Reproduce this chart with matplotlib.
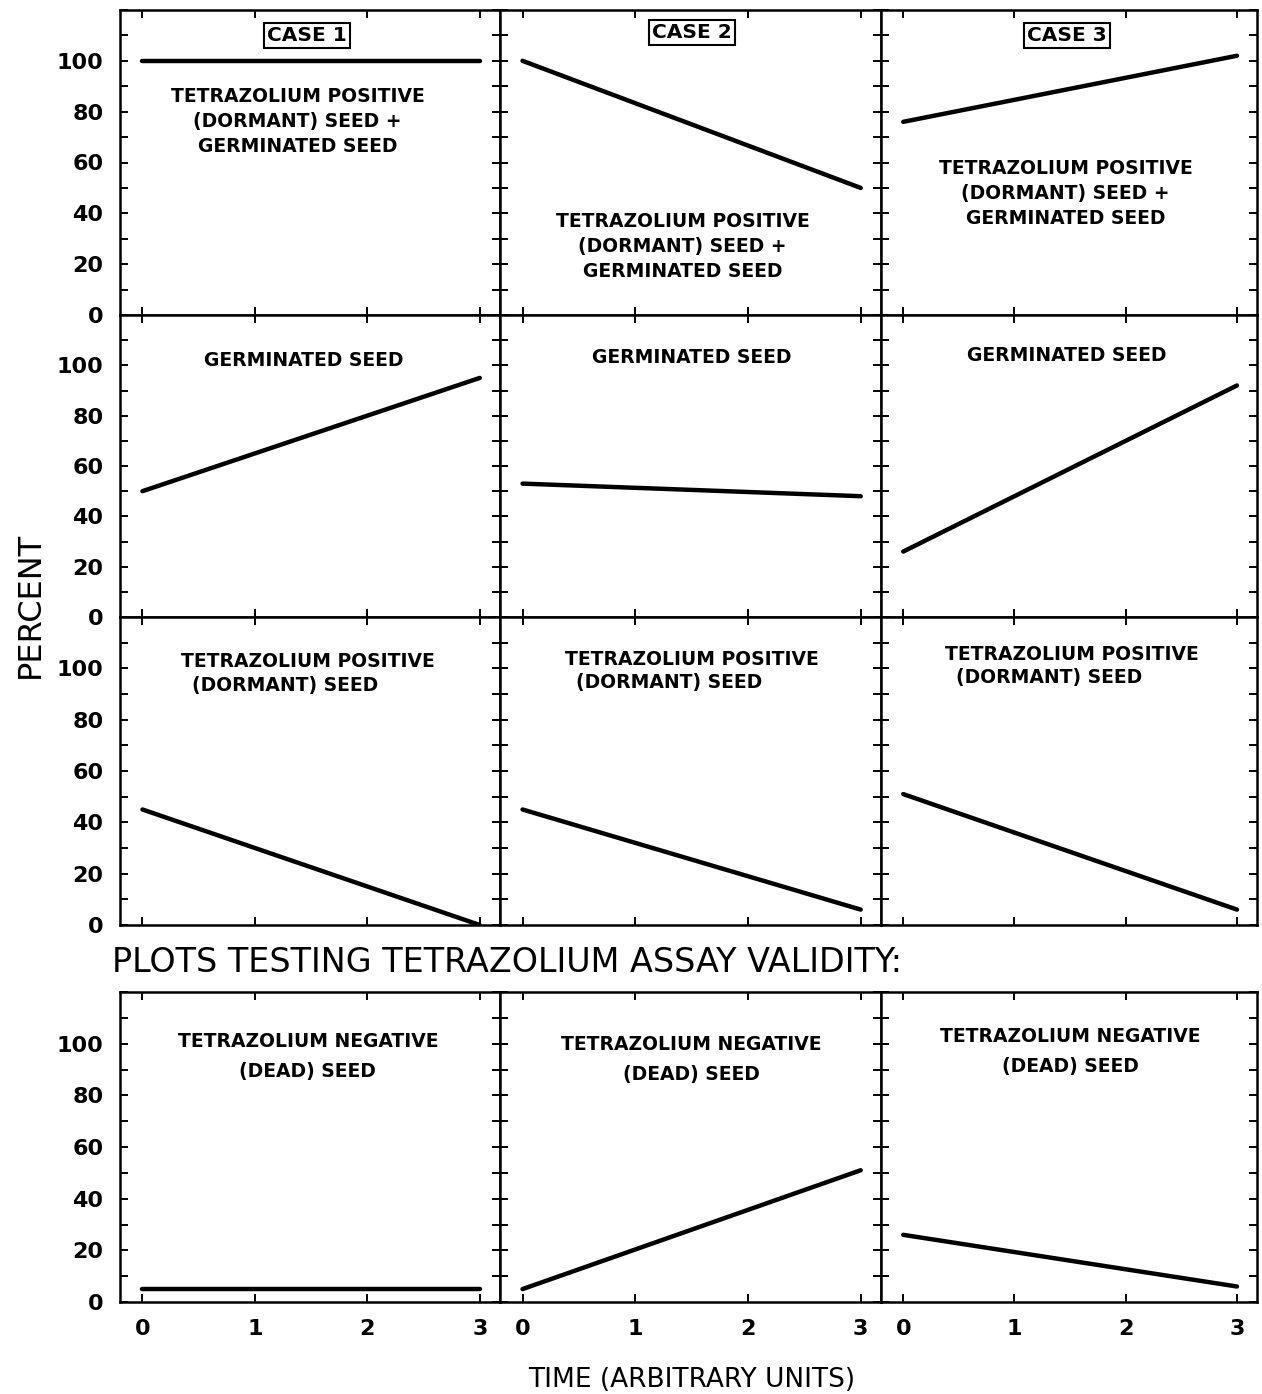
import numpy as np
import matplotlib
matplotlib.use("Agg")
import matplotlib.pyplot as plt

# time points (start, end) for each straight line
times = [0, 3]

# rows of panels, one entry per case (case 1, case 2, case 3)
row_total = [[100, 100], [100, 50], [76, 102]]
row_germinated = [[50, 95], [53, 48], [26, 92]]
row_dormant = [[45, 0], [45, 6], [51, 6]]
row_dead = [[5, 5], [5, 51], [26, 6]]

case_labels = ["CASE 1", "CASE 2", "CASE 3"]
label_total = "TETRAZOLIUM POSITIVE\n(DORMANT) SEED +\nGERMINATED SEED"
label_germinated = "GERMINATED SEED"
label_dormant = "TETRAZOLIUM POSITIVE\n(DORMANT) SEED       "
label_dead = "TETRAZOLIUM NEGATIVE\n(DEAD) SEED"

# label anchor (x, y) in data units per panel
pos_total = [(1.38, 76), (1.42, 27), (1.46, 48)]
pos_germinated = [(1.43, 102), (1.5, 103), (1.47, 104)]
pos_dormant = [(1.47, 98), (1.5, 99), (1.52, 101)]
pos_dead = [(1.47, 95), (1.5, 94), (1.5, 97)]
pos_case = [(1.46, 110), (1.5, 111), (1.47, 110)]

W, H = 1262, 1394
fig = plt.figure(figsize=(W / 100, H / 100), dpi=100)

col_edges = [(120, 500), (500, 881), (881, 1257)]
row_edges = [(10, 315), (315, 617), (617, 925), (992, 1302)]

rows = [row_total, row_germinated, row_dormant, row_dead]
labels = [label_total, label_germinated, label_dormant, label_dead]
label_pos = [pos_total, pos_germinated, pos_dormant, pos_dead]
spacing = [1.4, 1.2, 1.3, 1.75]

for r, (top, bot) in enumerate(row_edges):
    for c, (left, right) in enumerate(col_edges):
        ax = fig.add_axes([left / W, 1 - bot / H, (right - left) / W, (bot - top) / H])
        ax.plot(times, rows[r][c], color="black", lw=3.2, solid_capstyle="round")
        ax.set_xlim(-0.2, 3.18)
        ax.set_ylim(0, 120)
        ax.set_xticks([0, 1, 2, 3])
        ax.set_yticks(np.arange(0, 121, 10))
        ax.set_yticklabels([str(v) if v % 20 == 0 and v <= 100 else "" for v in range(0, 121, 10)])
        ax.tick_params(direction="in", length=6, width=1.4, top=True, right=True,
                       labelsize=16, pad=12)
        for lab in ax.get_xticklabels() + ax.get_yticklabels():
            lab.set_fontweight("bold")
        if c > 0:
            ax.tick_params(labelleft=False)
        if r < 3:
            ax.tick_params(labelbottom=False)
        for sp in ax.spines.values():
            sp.set_linewidth(1.8)

        x, y = label_pos[r][c]
        ax.text(x, y, labels[r], ha="center", va="center", fontsize=13.5,
                fontweight="bold", linespacing=spacing[r])
        if r == 0:
            cx, cy = pos_case[c]
            ax.text(cx, cy, case_labels[c], ha="center", va="center", fontsize=14.5,
                    fontweight="bold",
                    bbox=dict(boxstyle="square,pad=0.15", fc="white", ec="black", lw=1.5))

fig.text(30 / W, 1 - 605 / H, "PERCENT", rotation=90, ha="center", va="center",
         fontsize=23)
fig.text(112 / W, 1 - 963 / H, "PLOTS TESTING TETRAZOLIUM ASSAY VALIDITY:",
         ha="left", va="center", fontsize=24)
fig.text(692 / W, 1 - 1380 / H, "TIME (ARBITRARY UNITS)", ha="center", va="center",
         fontsize=19)

fig.savefig("out.png", dpi=100, facecolor="white")
